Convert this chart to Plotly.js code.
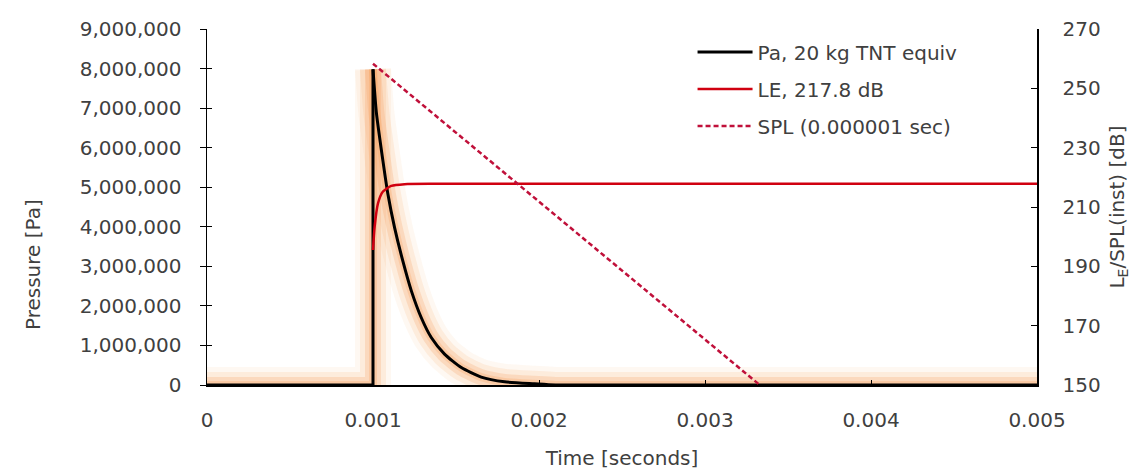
<!DOCTYPE html>
<html>
<head>
<meta charset="utf-8">
<script src="https://cdn.plot.ly/plotly-3.0.1.min.js"></script>
<style>html,body{margin:0;padding:0;background:#fff;}#chart{width:1139px;height:470px;}</style>
</head>
<body>
<div id="chart"></div>
<script>
// Pressure trace (Pa)
const timePa = [0, 0.001, 0.001, 0.00102, 0.00106, 0.00109, 0.00113, 0.00118, 0.001231, 0.001291, 0.001351, 0.001431, 0.001532, 0.001652, 0.001793, 0.001973, 0.0021, 0.005];
const pressure = [0, 0, 7980000, 6900000, 5660000, 4820000, 3980000, 3130000, 2380000, 1700000, 1200000, 780000, 440000, 200000, 80000, 30000, 0, 0];

// Cumulative exposure level LE (dB)
const timeLE = [0.001, 0.00101, 0.00103, 0.00106, 0.00111, 0.00119, 0.0014, 0.005];
const levelLE = [195.5, 203.4, 211.2, 215.2, 217.1, 217.7, 217.8, 217.8];

// Instantaneous SPL (dB)
const timeSPL = [0.001, 0.00333];
const levelSPL = [258.3, 150];

// Axis ticks
const xTickVals = [0, 0.001, 0.002, 0.003, 0.004, 0.005];
const xTickText = ['0', '0.001', '0.002', '0.003', '0.004', '0.005'];
const y2TickVals = [150, 170, 190, 210, 230, 250, 270];

const FONT = 'DejaVu Sans, Verdana, sans-serif';
const TXT = '#404040';
const glowColor = 'rgb(247,160,95)';

// split the pressure series: the step (straight) and the decay (smoothed)
const PEAK = 2;
const riseT = timePa.slice(0, PEAK + 1), riseP = pressure.slice(0, PEAK + 1);
const decayT = timePa.slice(PEAK), decayP = pressure.slice(PEAK);

const traces = [];
const glowLayers = [[36, 0.08], [26, 0.14], [16, 0.24], [8, 0.28]];
glowLayers.forEach(([w, op]) => {
  traces.push({x: riseT, y: riseP, mode: 'lines', line: {color: glowColor, width: w}, opacity: op, showlegend: false, hoverinfo: 'skip'});
  traces.push({x: decayT, y: decayP, mode: 'lines', line: {color: glowColor, width: w, shape: 'spline', smoothing: 0.6}, opacity: op, showlegend: false, hoverinfo: 'skip'});
});
traces.push(
  {x: riseT, y: riseP, mode: 'lines', name: 'Pa, 20 kg TNT equiv', legendgroup: 'a', line: {color: '#000000', width: 3}},
  {x: decayT, y: decayP, mode: 'lines', legendgroup: 'a', showlegend: false, line: {color: '#000000', width: 3, shape: 'spline', smoothing: 0.6}},
  {x: timeLE, y: levelLE, yaxis: 'y2', mode: 'lines', name: 'LE, 217.8 dB', legendgroup: 'b', line: {color: '#D00010', width: 2.5, shape: 'spline', smoothing: 0.6}},
  {x: timeSPL, y: levelSPL, yaxis: 'y2', mode: 'lines', name: 'SPL (0.000001 sec)', legendgroup: 'c', line: {color: '#C0103A', width: 2.5, dash: '5px,3px'}}
);

// dummy trace to activate yaxis3 (inner half of the crossing ticks)
traces.push({x: [0], y: [0], yaxis: 'y3', mode: 'markers', marker: {opacity: 0}, showlegend: false, hoverinfo: 'skip'});

const layout = {
  width: 1139, height: 470,
  margin: {l: 207, r: 102, t: 29, b: 85},
  paper_bgcolor: '#ffffff', plot_bgcolor: '#ffffff',
  font: {family: FONT, size: 20, color: TXT},
  showlegend: true,
  legend: {x: 0.585, y: 0.99, xanchor: 'left', yanchor: 'top', bgcolor: 'rgba(0,0,0,0)',
           font: {family: FONT, size: 20, color: TXT}, tracegroupgap: 8, itemwidth: 55},
  xaxis: {range: [0, 0.005], tickvals: xTickVals, ticktext: xTickText, showgrid: false, zeroline: false,
          showline: true, linecolor: '#000', linewidth: 1.5, ticks: 'inside', ticklen: 5, tickcolor: '#000',
          ticklabelstandoff: 16,
          title: {text: 'Time [seconds]', font: {family: FONT, size: 20, color: TXT}, standoff: 22}},
  yaxis: {range: [0, 9000000], dtick: 1000000, tickformat: ',d', showgrid: false, zeroline: false,
          showline: true, linecolor: '#000', linewidth: 1.5, ticks: 'outside', ticklen: 6, tickcolor: '#000',
          ticklabelstandoff: 14},
  yaxis3: {range: [0, 9000000], dtick: 1000000, overlaying: 'y', side: 'left', showgrid: false, zeroline: false,
           showline: false, ticks: 'inside', ticklen: 5, tickcolor: '#000', showticklabels: false},
  yaxis2: {range: [150, 270], tickvals: y2TickVals, overlaying: 'y', side: 'right', showgrid: false, zeroline: false,
           showline: true, linecolor: '#000', linewidth: 1.5, ticks: 'inside', ticklen: 6, tickcolor: '#000',
           ticklabelstandoff: 20,
           title: {text: 'L<sub>E</sub>/SPL(inst) [dB]', font: {family: FONT, size: 20, color: TXT}, standoff: 10}},
  annotations: [
    {text: 'Pressure [Pa]', xref: 'paper', yref: 'paper', x: -0.2096, y: 0.337, xanchor: 'center', yanchor: 'middle',
     textangle: -90, showarrow: false, font: {family: FONT, size: 20, color: TXT}}
  ]
};

Plotly.newPlot('chart', traces, layout, {staticPlot: true, displayModeBar: false});
</script>
</body>
</html>
